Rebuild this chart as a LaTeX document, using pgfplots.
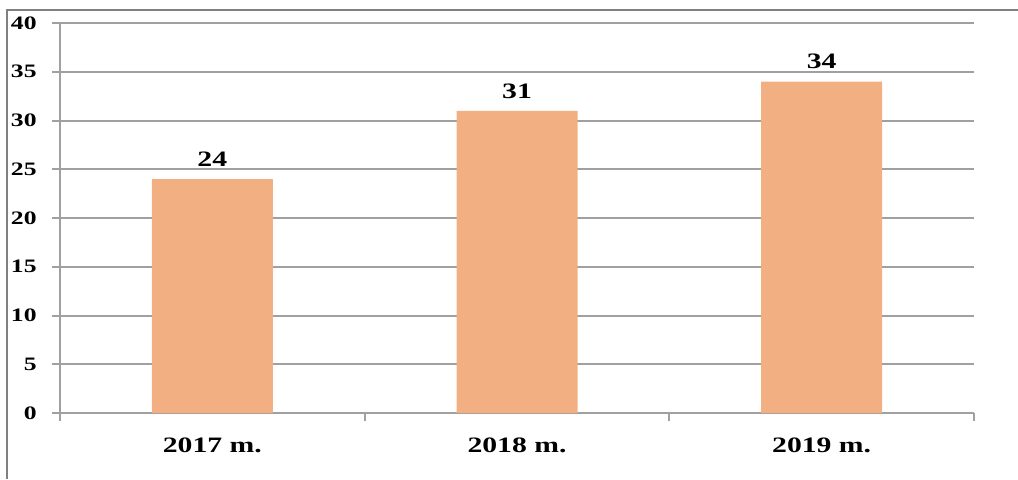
\documentclass[border=0pt]{standalone}
\usepackage{fontspec}
\setmainfont{Liberation Serif}[FakeStretch=1.35]
\usepackage{pgfplots}
\pgfplotsset{compat=1.18}
\definecolor{barfill}{RGB}{242,175,130}
\definecolor{gridgray}{RGB}{160,160,160}
\definecolor{framegray}{RGB}{128,128,128}

\begin{document}
\begin{tikzpicture}
% page = 1018 x 479 px, 1 px = 0.5 pt
\useasboundingbox (0,0) rectangle (509pt,239.5pt);
\draw[framegray, line width=0.8pt] (3.5pt,0) -- (3.5pt,234.5pt) -- (509pt,234.5pt);
\begin{axis}[
    at={(30pt,33pt)}, anchor=south west,
    scale only axis,
    width=457pt, height=195pt,
    ybar, bar width=60.5pt,
    xmin=-0.5, xmax=2.5,
    ymin=0, ymax=40,
    ytick={0,5,...,40},
    xtick={-0.5,0.5,1.5,2.5},
    x tick label as interval,
    xticklabels={2017 m., 2018 m., 2019 m.},
    axis x line=bottom, axis y line=left,
    axis line style={-, gridgray, line width=1pt},
    ymajorgrids, grid style={gridgray, line width=1pt},
    tick align=outside, major tick length=4pt,
    tick style={gridgray, line width=1pt},
    /pgf/number format/assume math mode=true,
    yticklabel style={font=\fontsize{9.5}{11}\selectfont\bfseries, inner sep=0pt, anchor=east, xshift=-7.5pt},
    xticklabel style={font=\fontsize{11}{13}\selectfont\bfseries, inner sep=0pt, anchor=north, yshift=-8pt},
    nodes near coords,
    every node near coord/.append style={font=\fontsize{11}{13}\selectfont\bfseries, anchor=south, inner sep=0pt, yshift=6pt},
]
\addplot[fill=barfill, draw=none] coordinates {(0,24) (1,31) (2,34)};
\end{axis}
\end{tikzpicture}
\end{document}
